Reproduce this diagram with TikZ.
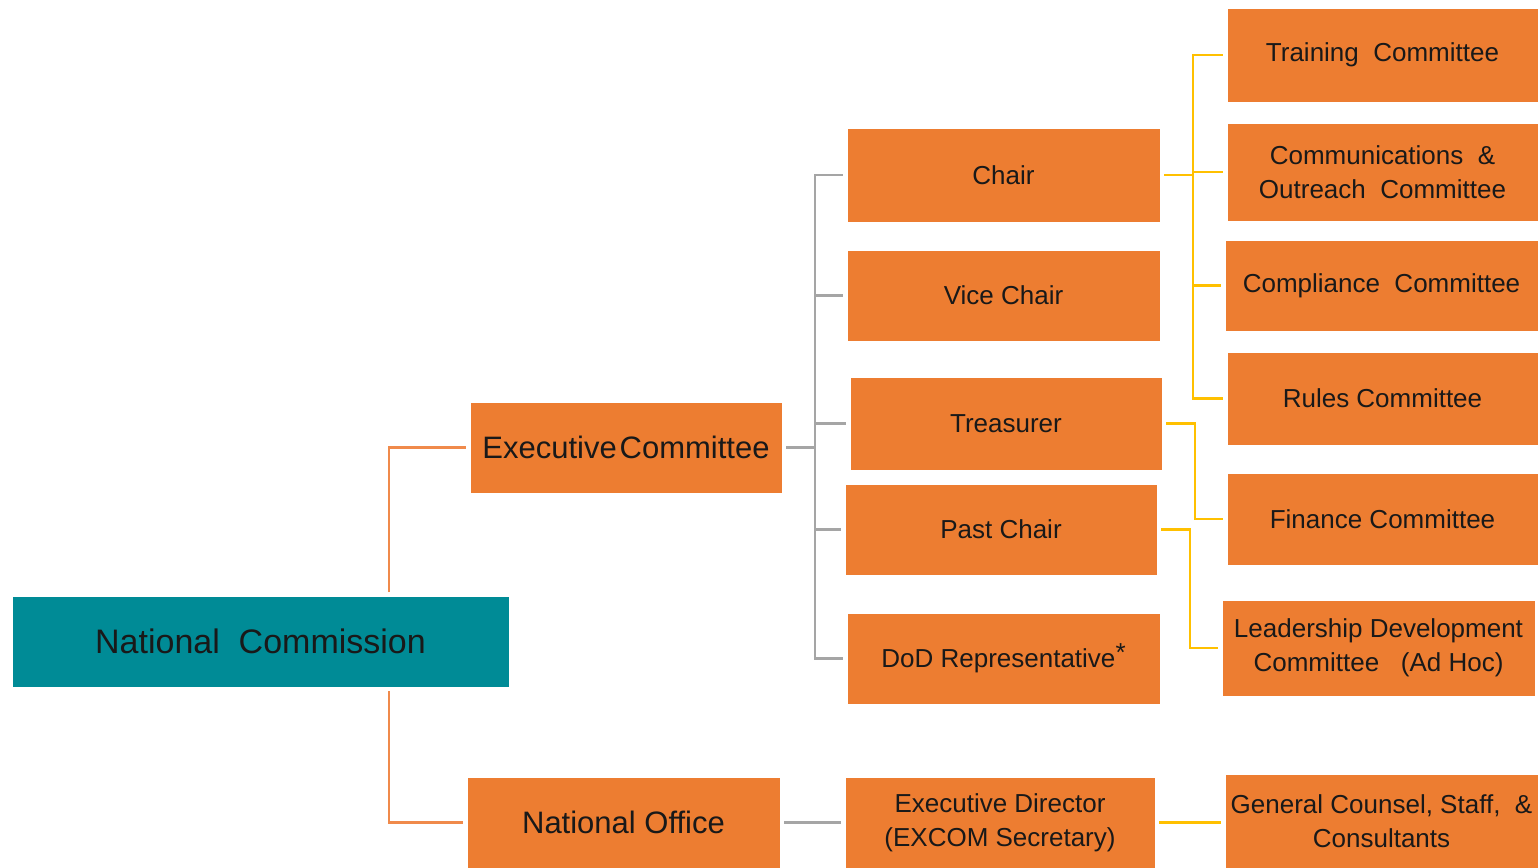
\documentclass[tikz,border=0pt]{standalone}
\usepackage{fontspec}
\setmainfont{Liberation Sans}
\definecolor{boxor}{HTML}{ED7D31}
\definecolor{teal}{HTML}{008B96}
\definecolor{gl}{HTML}{A5A5A5}
\definecolor{yl}{HTML}{FFC000}
\definecolor{ol}{HTML}{F08A4B}
\tikzset{
  box/.style={fill=boxor, draw=white, line width=0.4pt, inner sep=2pt, align=center, text=black!90, font=\fontsize{13}{17}\selectfont},
  bigbox/.style={box, font=\fontsize{15.5}{18}\selectfont},
  gline/.style={draw=gl, line width=1.3pt, shorten >=2pt, shorten <=2pt},
  yline/.style={draw=yl, line width=1.3pt, shorten >=2pt, shorten <=2pt},
  oline/.style={draw=ol, line width=1.2pt, shorten >=2pt, shorten <=2pt}
}
\begin{document}
\begin{tikzpicture}[x=0.5pt,y=-0.5pt]
\useasboundingbox (0,0) rectangle (1538,868);
\node[box, fill=teal, minimum width=248.5pt, minimum height=45.5pt, font=\fontsize{17}{20}\selectfont] (nc) at (260.5,641.5) {National\ \ Commission};
\node[bigbox, minimum width=156pt, minimum height=45.5pt] (ec) at (626,447.5) {Executive\hspace{1.5pt}Committee};
\node[bigbox, minimum width=156.5pt, minimum height=45.5pt] (no) at (623.5,822.5) {National Office};
\node[box, minimum width=156.5pt, minimum height=47pt] (chair) at (1003.5,175) {Chair};
\node[box, minimum width=156.5pt, minimum height=45.5pt] (vice) at (1003.5,295.5) {Vice Chair};
\node[box, minimum width=156pt, minimum height=46.5pt] (treas) at (1006,423.5) {Treasurer};
\node[box, minimum width=156pt, minimum height=45.5pt] (past) at (1001,529.5) {Past Chair};
\node[box, minimum width=156.5pt, minimum height=45.5pt] (dod) at (1003.5,658.5) {DoD Representative\raisebox{3pt}{*}};
\node[box, minimum width=155pt, minimum height=45.5pt] (ed) at (1000,822.5) {Executive Director\\(EXCOM Secretary)};
\node[box, minimum width=155.5pt, minimum height=47pt] (train) at (1382.5,55) {Training\ \ Committee};
\node[box, minimum width=155.5pt, minimum height=49pt] (comm) at (1382.5,172) {Communications\ \ \&\\Outreach\ \ Committee};
\node[box, minimum width=156.5pt, minimum height=45.5pt] (compl) at (1381.5,285.5) {Compliance\ \ Committee};
\node[box, minimum width=155.5pt, minimum height=46.5pt] (rules) at (1382.5,398.5) {Rules Committee};
\node[box, minimum width=155.5pt, minimum height=46pt] (fin) at (1382.5,519) {Finance Committee};
\node[box, minimum width=156.5pt, minimum height=48pt] (lead) at (1378.5,648) {Leadership Development\\Committee\ \ \ (Ad Hoc)};
\node[box, minimum width=156.5pt, minimum height=47pt] (gc) at (1381.5,821) {General Counsel, Staff,\ \ \&\\Consultants};
% coordinates
\coordinate (ncu) at (389,596);
\coordinate (ncd) at (389,687);
\coordinate (gb) at (815,447.5);
\coordinate (yb) at (1193,175);
\coordinate (tb) at (1195,423.5);
\coordinate (pb) at (1190,529.5);
% orange
\draw[oline] (ncu) |- (ec.west);
\draw[oline] (ncd) |- (no.west);
% gray
\foreach \t in {chair,vice,treas,past,dod}{
  \draw[gline] (ec.east) -- (gb) |- (\t.west);
}
\draw[gline] (no.east) -- (ed.west);
% yellow
\foreach \t in {train,comm,compl,rules}{
  \draw[yline] (chair.east) -- (yb) |- (\t.west);
}
\draw[yline] (treas.east) -- (tb) |- (fin.west);
\draw[yline] (past.east) -- (pb) |- (lead.west);
\draw[yline] (ed.east) -- (ed.east -| gc.west);
\end{tikzpicture}
\end{document}
